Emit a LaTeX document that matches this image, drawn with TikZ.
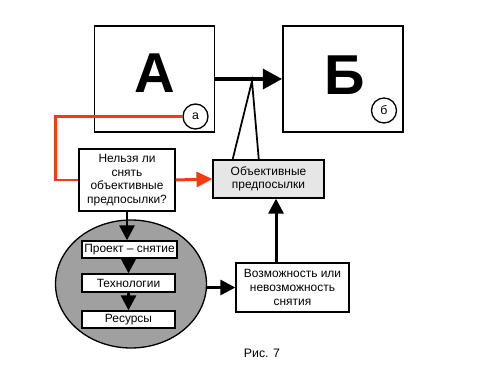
\documentclass[tikz,border=0pt]{standalone}
\usepackage{fontspec}
\setmainfont{Liberation Sans}
\usetikzlibrary{arrows.meta,shapes.geometric}
\definecolor{redline}{RGB}{240,60,20}
\definecolor{ovalgray}{RGB}{160,160,160}
\definecolor{calloutgray}{RGB}{230,230,230}
\begin{document}
\begin{tikzpicture}[x=0.02cm, y=-0.02cm,
      box/.style={rectangle, draw, line width=0.75pt, fill=white,
                  align=center, inner sep=0pt,
                  font=\fontsize{6.8}{7.8}\selectfont},
      bigbox/.style={rectangle, draw, line width=1pt,
                  minimum width=2.4cm, minimum height=2.12cm},
      letter/.style={font=\fontsize{32}{32}\bfseries\selectfont},
      mark circle/.style={circle, draw, line width=0.75pt, fill=white,
                  minimum size=0.5cm, inner sep=0pt,
                  font=\fontsize{7}{8}\selectfont},
      arrow/.style={-{Triangle[length=8.5pt, width=8.5pt]}, line width=1.7pt},
      bigarrow/.style={-{Triangle[length=11pt, width=11.3pt]}, line width=2.3pt},
      redarrow/.style={-{Triangle[length=9pt, width=8.5pt]}, line width=1.7pt, draw=redline, fill=redline}
    ]
    \useasboundingbox (0,0) rectangle (500,375);
    % upper boxes
    \node[bigbox] (A) at (154.5,79) {};
    \node[bigbox] (B) at (343,79) {};
    \node[letter] (Aletter) at (155,73) {А};
    \node[letter] (Bletter) at (345,75) {Б};
    \node[mark circle] (circa) at (195.5,116.5) {а};
    \node[mark circle] (circb) at (384,110.5) {б};
    \draw[bigarrow] (A.east) -- (B.west);
    % callout
    \coordinate (apex) at (252,81);
    \draw[line width=1pt, fill=white] (232,162) -- (apex) -- (259,162);
    \node[box, fill=calloutgray, minimum width=2.22cm, minimum height=0.76cm] (obj) at (268.5,179)
      {Объективные\\предпосылки};
    % question box and red link
    \node[box, minimum width=1.92cm, minimum height=1.24cm] (nelzya) at (127,180)
      {Нельзя ли\\снять\\объективные\\предпосылки?};
    \draw[line width=1.7pt, draw=redline] (circa.west) -- ++(-126.5,0) |- (nelzya.west);
    \draw[redarrow] (nelzya.east) -- (obj.west);
    % oval with steps
    \node[ellipse, draw, line width=0.75pt, fill=ovalgray,
          minimum width=3.02cm, minimum height=2.56cm] (oval) at (131,284) {};
    \node[box, minimum width=1.9cm, minimum height=0.34cm] (proekt) at (129.5,249.5) {Проект -- снятие};
    \node[box, minimum width=1.86cm, minimum height=0.36cm] (tech) at (128.5,283) {Технологии};
    \node[box, minimum width=1.86cm, minimum height=0.34cm] (res) at (128.5,319.5) {Ресурсы};
    \draw[arrow] (nelzya.south) -- (nelzya.south |- proekt.north);
    \draw[arrow] (proekt.south -| tech.north) -- (tech.north);
    \draw[arrow] (tech.south) -- (res.north);
    % result
    \node[box, minimum width=2.26cm, minimum height=0.98cm] (vozm) at (292.5,287.5)
      {Возможность или\\невозможность\\снятия};
    \draw[arrow] (oval.east |- vozm.west) -- (vozm.west);
    \draw[arrow] ([xshift=-0.33cm]vozm.north) -- ([xshift=-0.33cm]vozm.north |- obj.south);
    \node[font=\fontsize{7}{8}\selectfont] (caption) at (262,353) {Рис. 7};
\end{tikzpicture}
\end{document}
